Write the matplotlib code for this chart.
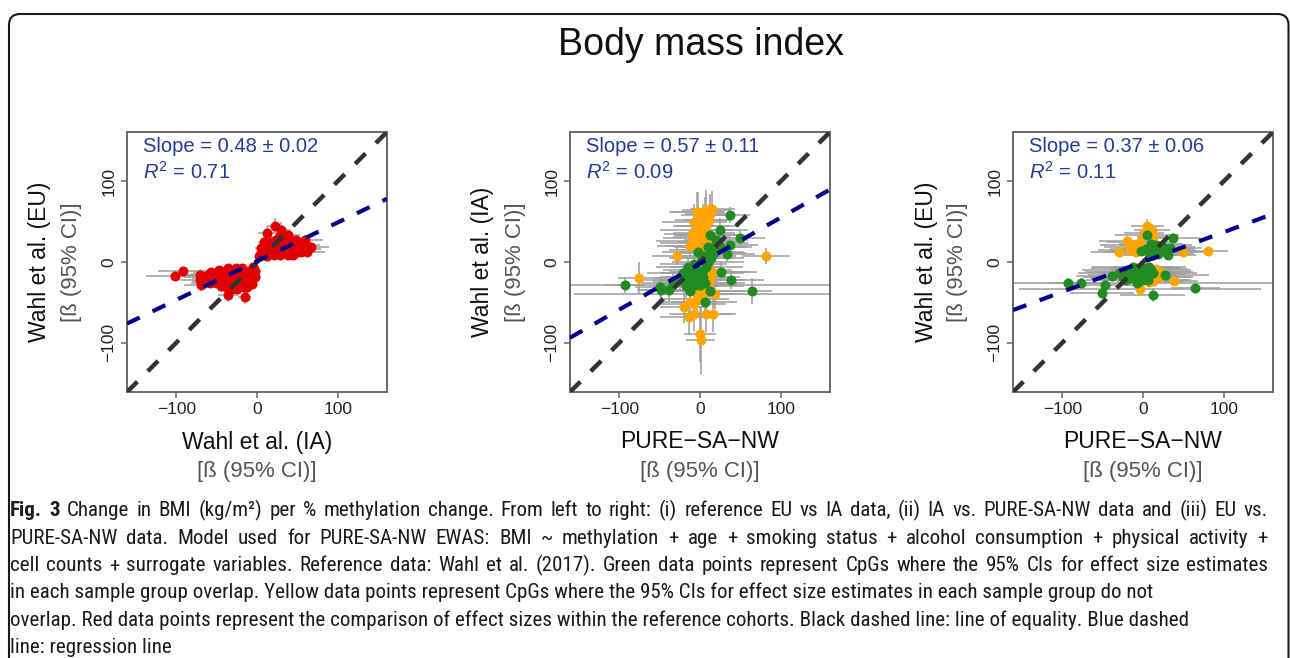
import numpy as np
import matplotlib
matplotlib.use("Agg")
import matplotlib.pyplot as plt
from matplotlib.patches import FancyBboxPatch
from matplotlib.transforms import IdentityTransform

# ---------------- data ----------------
title = "Body mass index"

# Panel 1: Wahl et al. (IA) vs Wahl et al. (EU) -- red
p1_x = [-101, -92, -70, -70, -69, -65, -61, -57, -55, -53, -53, -49, -47, -45, -45, -42, -41, -38, -38, -36,
        -36, -34, -32, -30, -28, -26, -24, -21, -20, -18, -16, -15, -12, -11, -9.5, -9.5, -5, -3, -2, -60,
        -50, -44, -30, -27, -17, -14, -7, -25, -33, -58, -40, -22, -12, -6,
        3, 5, 9, 13, 22.6, 30, 17, 23, 29, 33, 38, 25, 33, 41, 48, 49, 54, 60, 62, 67,
        58, 13, 21, 29, 39, 45, 19, 11, 43, 27, 7, 15, 35, 52, 57, 9, 37, 47]
p1_y = [-17, -11, -16, -22, -29, -18, -23, -12, -20, -24, -16, -26, -10, -30, -14, -18, -24, -31, -12, -41,
        -8, -22, -14, -29, -24, -8, -20, -26, -18, -8, -31, -43, -31, -20, -12, -22, -6, -18, -11, -15,
        -20, -22, -18, -15, -14, -24, -15, -33, -35, -26, -28, -12, -26, -27,
        7, 17, 13, 36, 45, 40, 25, 27, 23, 30, 33, 16, 13, 20, 27, 13, 12, 27, 13, 19,
        21, 7, 9, 9, 9, 9, 18, 20, 26, 31, 10, 14, 20, 20, 16, 25, 15, 18]
p1_xerr = [36, 30, 28, 25, 22, 25, 20, 22, 25, 20, 18, 22, 15, 20, 18, 20, 18, 16, 15, 12,
           14, 16, 15, 14, 12, 12, 14, 12, 12, 10, 10, 8, 10, 10, 8, 9, 7, 8, 7, 22,
           20, 16, 14, 12, 10, 10, 8, 14, 15, 24, 18, 12, 9, 7,
           6, 8, 10, 12, 10, 12, 10, 12, 12, 14, 15, 12, 14, 16, 18, 18, 20, 22, 22, 22,
           20, 8, 10, 12, 15, 16, 10, 8, 18, 12, 6, 9, 14, 20, 22, 8, 14, 18]
p1_yerr = [6, 5, 7, 6, 7, 6, 6, 5, 6, 6, 5, 6, 5, 7, 5, 6, 6, 7, 5, 8,
           5, 6, 5, 7, 6, 5, 6, 6, 5, 5, 7, 9, 7, 6, 5, 6, 5, 6, 5, 6,
           6, 6, 5, 5, 5, 6, 5, 7, 7, 6, 6, 5, 6, 6,
           5, 6, 6, 8, 10, 9, 7, 7, 6, 7, 7, 6, 5, 6, 7, 6, 5, 7, 6, 6,
           6, 4, 5, 5, 5, 5, 6, 6, 7, 8, 5, 5, 6, 6, 6, 6, 6, 6]

# Panel 2: PURE-SA-NW vs Wahl et al. (IA)
p2_or_x = [-76, -29, 82, -4, 8, 15, -7, 4, 11, -4, 8, -8, 2, -13, -9, 0, 8, 4, 16, 12,
           -4, -8, -4, 4, -12, -20, -8, -14, -8, 8, 16, 0, 1, 18, 10, -10, 6, -2, 10,
           -6, 2, 12, -2, 5]
p2_or_y = [-19.5, 8, 7.5, 62, 65, 66, 50, 52, 52, 40, 44, 23, 31, 20, 26, 15, 33, -14, -12, -22,
           -26, -36, -46, -40, -50, -56, -52, -68, -64, -65, -65, -89, -97, -40, -30, 35, 58, 20, 25,
           30, 45, 60, 62, 36]
p2_or_xerr = [25, 30, 30, 35, 30, 28, 40, 35, 30, 45, 38, 42, 35, 40, 45, 38, 40, 50, 45, 45,
              50, 48, 40, 160, 35, 30, 40, 35, 30, 30, 28, 20, 18, 35, 45, 35, 30, 40, 38,
              40, 35, 30, 32, 38]
p2_or_yerr = [20, 12, 10, 25, 24, 22, 22, 20, 20, 18, 18, 15, 16, 14, 15, 12, 16, 14, 12, 14,
              15, 16, 18, 16, 20, 20, 20, 22, 22, 22, 22, 35, 42, 18, 15, 16, 22, 12, 14,
              16, 20, 24, 25, 16]
p2_gr_x = [-93, -50, -38, -48, -33, -25, -17, -13, -21, -15, -8, -2, 2, 8, 4, 6, 12, 17, 10, 20,
           25, 33, 37, 50, 37, 25, 26, 39, 64, 6, -10, -4, 12, 18, -6, 0, -12, 5, 14, -3,
           -5, 3, 10, 15, 22, -18]
p2_gr_y = [-29, -31, -35, -35, -26, -22, -30, -36, -14, -6, -2, 13, 5, -6, -18, -26, -36, 11, 19, 27,
           18, 10, 21, 30, 58, 40, -12, -22, -36, -50, -14, -10, 33, 19, -28, -29, -20, 8, 5, -22,
           -18, -12, 0, 12, 24, -24]
p2_gr_xerr = [25, 30, 35, 30, 40, 45, 40, 35, 45, 40, 42, 45, 40, 45, 45, 50, 45, 40, 42, 40,
              40, 35, 35, 30, 25, 35, 45, 40, 25, 40, 40, 42, 40, 40, 45, 165, 45, 40, 40, 45,
              45, 42, 45, 40, 38, 40]
p2_gr_yerr = [10, 12, 14, 12, 12, 12, 14, 14, 10, 10, 10, 12, 10, 10, 12, 12, 12, 10, 12, 14,
              12, 10, 10, 10, 10, 14, 12, 12, 16, 14, 10, 10, 12, 10, 12, 12, 12, 10, 10, 12,
              12, 10, 10, 12, 12, 12]

# Panel 3: PURE-SA-NW vs Wahl et al. (EU)
p3_or_x = [5.4, 11, 1, 13, -20, -13, -4, -30, -9, 49, 80, 4, 16, 8, 22, 38, 8, -4, 12, -16, -6, 20]
p3_or_y = [45, 40, 36, 31, 26, 21, 25, 12, 12, 13, 14, -7, -9, -15, -19, -24, -25, -33, -23, 15, 18, -12]
p3_or_xerr = [20, 22, 25, 20, 35, 40, 40, 35, 40, 30, 25, 40, 40, 45, 40, 30, 40, 150, 40, 40, 42, 42]
p3_or_yerr = [8, 7, 7, 6, 6, 6, 6, 6, 6, 5, 5, 5, 5, 5, 5, 6, 6, 6, 5, 6, 5, 5]
p3_gr_x = [5, 37, 16, 33, 8, 21, 4, -2, 31, 12, 25, -93, -77, -47, -51, 12, 65, -38, -25, -17,
           -9, -13, -4, 4, 0, -21, 12, 27, -8, 6, -13, 8, 14, 20, -6, -16, 2,
           -30, -20, -10, 0, 10, 10, 18, 28]
p3_gr_y = [33, 30, 21, 17, 12, 12, 16, 14, 9, 9, 19, -26, -26, -29, -38, -41, -32, -17, -18, -12,
           -8, -16, -18, -18, -13, -22, -14, -16, -26, -22, -6, -6, 15, 16, -14, -20, -8,
           -14, -10, -20, -22, -10, 22, 10, 14]
p3_gr_xerr = [40, 35, 45, 40, 45, 45, 45, 40, 35, 45, 40, 25, 30, 45, 40, 40, 30, 45, 50, 55,
              55, 55, 50, 55, 60, 50, 55, 55, 170, 50, 50, 45, 45, 45, 50, 50, 45,
              50, 55, 55, 60, 50, 40, 45, 40]
p3_gr_yerr = [6, 6, 5, 5, 5, 5, 5, 5, 5, 5, 5, 6, 6, 6, 6, 9, 6, 5, 5, 5,
              5, 5, 5, 5, 5, 5, 5, 5, 6, 5, 5, 5, 5, 5, 5, 5, 5,
              5, 5, 5, 5, 5, 5, 5, 5]

slopes = [0.48, 0.57, 0.37]
intercepts = [1, -2, 0]
slope_labels = ["Slope = 0.48 \u00b1 0.02", "Slope = 0.57 \u00b1 0.11", "Slope = 0.37 \u00b1 0.06"]
r2_labels = ["0.71", "0.09", "0.11"]
x_labels = ["Wahl et al. (IA)", "PURE\u2212SA\u2212NW", "PURE\u2212SA\u2212NW"]
y_labels = ["Wahl et al. (EU)", "Wahl et al. (IA)", "Wahl et al. (EU)"]
unit_label = "[\u00df (95% CI)]"
ticks = [-100, 0, 100]

caption_lines = [
    "Change in BMI (kg/m\u00b2) per % methylation change. From left to right: (i) reference EU vs IA data, (ii) IA vs. PURE-SA-NW data and (iii) EU vs.",
    "PURE-SA-NW data. Model used for PURE-SA-NW EWAS: BMI ~ methylation + age + smoking status + alcohol consumption + physical activity +",
    "cell counts + surrogate variables. Reference data: Wahl et al. (2017). Green data points represent CpGs where the 95% CIs for effect size estimates",
    "in each sample group overlap. Yellow data points represent CpGs where the 95% CIs for effect size estimates in each sample group do not",
    "overlap. Red data points represent the comparison of effect sizes within the reference cohorts. Black dashed line: line of equality. Blue dashed",
    "line: regression line",
]
caption_bold = ["Fig.", "3"]

# ---------------- style ----------------
RED = "#E00000"
ORANGE = "#FFA500"
GREEN = "#228B22"
ERR = "#9E9E9E"
BLUE_TXT = "#233C96"
BLUE_LINE = "#00008B"
EQ_LINE = "#333333"

plt.rcParams["font.family"] = ["Liberation Sans", "DejaVu Sans"]
plt.rcParams["mathtext.fontset"] = "custom"
plt.rcParams["mathtext.rm"] = "Liberation Sans"
plt.rcParams["mathtext.it"] = "Liberation Sans:italic"

W, H = 1290, 658
fig = plt.figure(figsize=(W / 100, H / 100), dpi=100)
fig.patch.set_facecolor("white")


def fx(px):
    return px / W


def fy(py):
    return 1 - py / H


# outer rounded border
border = FancyBboxPatch((9, -40), 1288.5 - 9, (H - 14) + 40,
                        boxstyle="round,pad=0,rounding_size=11",
                        transform=IdentityTransform(), facecolor="none",
                        edgecolor="#1a1a1a", linewidth=1.5)
fig.add_artist(border)

fig.text(fx(701), fy(45), title, ha="center", va="center", fontsize=27, color="#111111")

panel_left = [127, 570, 1013]
AX_TOP, AX_SIZE = 132, 260
LIM = 161

series = [
    [(p1_x, p1_y, p1_xerr, p1_yerr, RED)],
    [(p2_or_x, p2_or_y, p2_or_xerr, p2_or_yerr, ORANGE), (p2_gr_x, p2_gr_y, p2_gr_xerr, p2_gr_yerr, GREEN)],
    [(p3_or_x, p3_or_y, p3_or_xerr, p3_or_yerr, ORANGE), (p3_gr_x, p3_gr_y, p3_gr_xerr, p3_gr_yerr, GREEN)],
]

for i in range(3):
    L = panel_left[i]
    ax = fig.add_axes([fx(L), fy(AX_TOP + AX_SIZE), AX_SIZE / W, AX_SIZE / H])
    ax.set_xlim(-LIM, LIM)
    ax.set_ylim(-LIM, LIM)
    for (x, y, xe, ye, c) in series[i]:
        ax.errorbar(x, y, xerr=xe, yerr=ye, fmt="none", ecolor=ERR, elinewidth=1.1, capsize=0, zorder=2)
    for (x, y, xe, ye, c) in series[i]:
        ax.plot(x, y, "o", ms=7.2, color=c, mew=0, zorder=3)
    xs = np.array([-LIM, LIM])
    ax.plot(xs, xs, color=EQ_LINE, lw=3.2, ls=(0, (3.3, 3.3)), dash_capstyle="butt", zorder=5)
    ax.plot(xs, slopes[i] * xs + intercepts[i], color=BLUE_LINE, lw=3.0, ls=(0, (3.4, 3.4)),
            dash_capstyle="butt", zorder=5)
    ax.set_xticks(ticks)
    ax.set_yticks(ticks)
    ax.tick_params(direction="out", length=4.5, width=1.1, color="#666666", labelsize=12.5,
                   labelcolor="#222222")
    ax.tick_params(axis="x", pad=3)
    ax.tick_params(axis="y", labelrotation=90, pad=3)
    for lab in ax.get_yticklabels():
        lab.set_va("center")
    for s in ax.spines.values():
        s.set_color("#6a6a6a")
        s.set_linewidth(1.4)

    cx = L + AX_SIZE / 2
    cy = AX_TOP + AX_SIZE / 2
    fig.text(fx(L + 16), fy(147), slope_labels[i], ha="left", va="center", fontsize=14.5, color=BLUE_TXT)
    fig.text(fx(L + 16), fy(172), r"$R^2$ = " + r2_labels[i], ha="left", va="center",
             fontsize=14.5, color=BLUE_TXT)
    fig.text(fx(cx), fy(442), x_labels[i], ha="center", va="center", fontsize=16.5, color="#111111")
    fig.text(fx(cx), fy(471), unit_label, ha="center", va="center", fontsize=16, color="#555555")
    fig.text(fx(L - 87), fy(cy), y_labels[i], ha="center", va="center", rotation=90,
             fontsize=16.5, color="#111111")
    fig.text(fx(L - 55), fy(cy), unit_label, ha="center", va="center", rotation=90,
             fontsize=16, color="#555555")

# ---------------- caption ----------------
cap_family = ["Roboto Condensed", "Liberation Sans Narrow", "Noto Sans", "Open Sans"]
cap_stretch = "condensed"
renderer = fig.canvas.get_renderer()


def text_width(s, size, weight="normal"):
    t = fig.text(0, 0, s, fontsize=size, family=cap_family, fontweight=weight, fontstretch=cap_stretch)
    w = t.get_window_extent(renderer).width
    t.remove()
    return w


CAP_LEFT, CAP_RIGHT = 10, 1268
# size: between "ragged lines end as in the reference" and "justified lines need no extra space"
size_a = 10 * (1107 - CAP_LEFT) / text_width(caption_lines[3], 10)
size_b = 10 * (1122 - CAP_LEFT) / text_width(caption_lines[4], 10)
full_lines = [" ".join(caption_bold) + " " + caption_lines[0], caption_lines[1], caption_lines[2]]
size_c = 10 * (CAP_RIGHT - CAP_LEFT) / max(text_width(s, 10) for s in full_lines)
cap_size = 0.5 * (0.5 * (size_a + size_b) + size_c)
baselines = [516, 543.5, 571, 598.5, 626, 653]
CAP_COLOR = "#1a1a1a"

for k, line in enumerate(caption_lines):
    words = line.split(" ")
    items = [(w, "normal") for w in words]
    if k == 0:
        items = [(b, "bold") for b in caption_bold] + items
    if k <= 2:
        widths = [text_width(w, cap_size, wt) for w, wt in items]
        gap = (CAP_RIGHT - CAP_LEFT - sum(widths)) / (len(items) - 1)
        xpos = CAP_LEFT
        for (w, wt), wd in zip(items, widths):
            fig.text(fx(xpos), fy(baselines[k]), w, ha="left", va="baseline", fontsize=cap_size,
                     family=cap_family, fontweight=wt, fontstretch=cap_stretch, color=CAP_COLOR)
            xpos += wd + gap
    else:
        fig.text(fx(CAP_LEFT), fy(baselines[k]), line, ha="left", va="baseline", fontsize=cap_size,
                 family=cap_family, fontstretch=cap_stretch, color=CAP_COLOR)

fig.savefig("out.png", dpi=100)
